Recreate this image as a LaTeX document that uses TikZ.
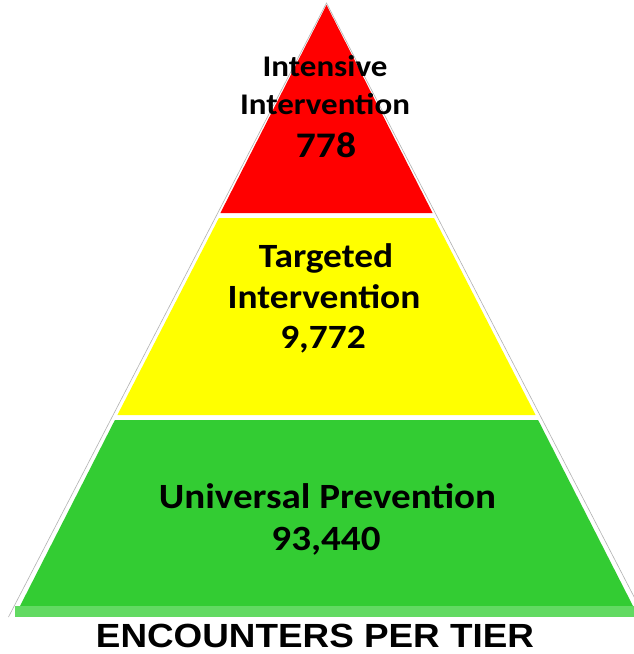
\documentclass[tikz,border=0pt]{standalone}
\usepackage{fontspec}
\usepackage{graphicx}
\setmainfont{Carlito}
\newfontfamily\arialfont{Liberation Sans}
\newcommand\hstretch[1]{\scalebox{1.1}[1]{#1}}
\definecolor{tierred}{HTML}{FF0000}
\definecolor{tieryellow}{HTML}{FFFF00}
\definecolor{tiergreen}{HTML}{33CC33}
\definecolor{striplight}{HTML}{62DA62}
\begin{document}
\begin{tikzpicture}[x=1pt,y=1pt,
  tierlbl/.style={inner sep=0pt, anchor=base, text=black, font=\bfseries},
  outline/.style={draw=black!30, line width=0.6pt}]
\useasboundingbox (0,0) rectangle (634,-654);
\fill[white] (0,0) rectangle (634,-654);
% faint outer outline
\draw[outline] (8.5,-617) -- (326.5,-3) -- (644.5,-617);
% tiers
\fill[tierred] (326.5,-5) -- (432.6,-213) -- (220.4,-213) -- cycle;
\fill[tieryellow] (218.9,-218) -- (434.1,-218) -- (535.6,-415) -- (117.4,-415) -- cycle;
\fill[tiergreen] (114.9,-420) -- (538.1,-420) -- (633,-606) -- (20,-606) -- cycle;
\fill[striplight] (15,-606) rectangle (634,-617);
% labels
\node[tierlbl, font=\bfseries\fontsize{30}{30}\selectfont] (i1) at (325,-76) {\hstretch{Intensive}};
\node[tierlbl, font=\bfseries\fontsize{30}{30}\selectfont] (i2) at (325,-114) {\hstretch{Intervention}};
\node[tierlbl, font=\bfseries\fontsize{36}{36}\selectfont] (i3) at (326,-157) {\hstretch{778}};
\node[tierlbl, font=\bfseries\fontsize{34}{34}\selectfont] (t1) at (326,-267) {\hstretch{Targeted}};
\node[tierlbl, font=\bfseries\fontsize{34}{34}\selectfont] (t2) at (324,-308) {\hstretch{Intervention}};
\node[tierlbl, font=\bfseries\fontsize{34}{34}\selectfont] (t3) at (323,-348) {\hstretch{9,772}};
\node[tierlbl, font=\bfseries\fontsize{35.5}{35.5}\selectfont] (u1) at (327.5,-508) {\hstretch{Universal Prevention}};
\node[tierlbl, font=\bfseries\fontsize{35.5}{35.5}\selectfont] (u2) at (326,-550) {\hstretch{93,440}};
\node[tierlbl, font=\arialfont\bfseries\fontsize{33.5}{33.5}\selectfont] (cap) at (315,-647) {\hstretch{ENCOUNTERS PER TIER}};
\end{tikzpicture}
\end{document}
